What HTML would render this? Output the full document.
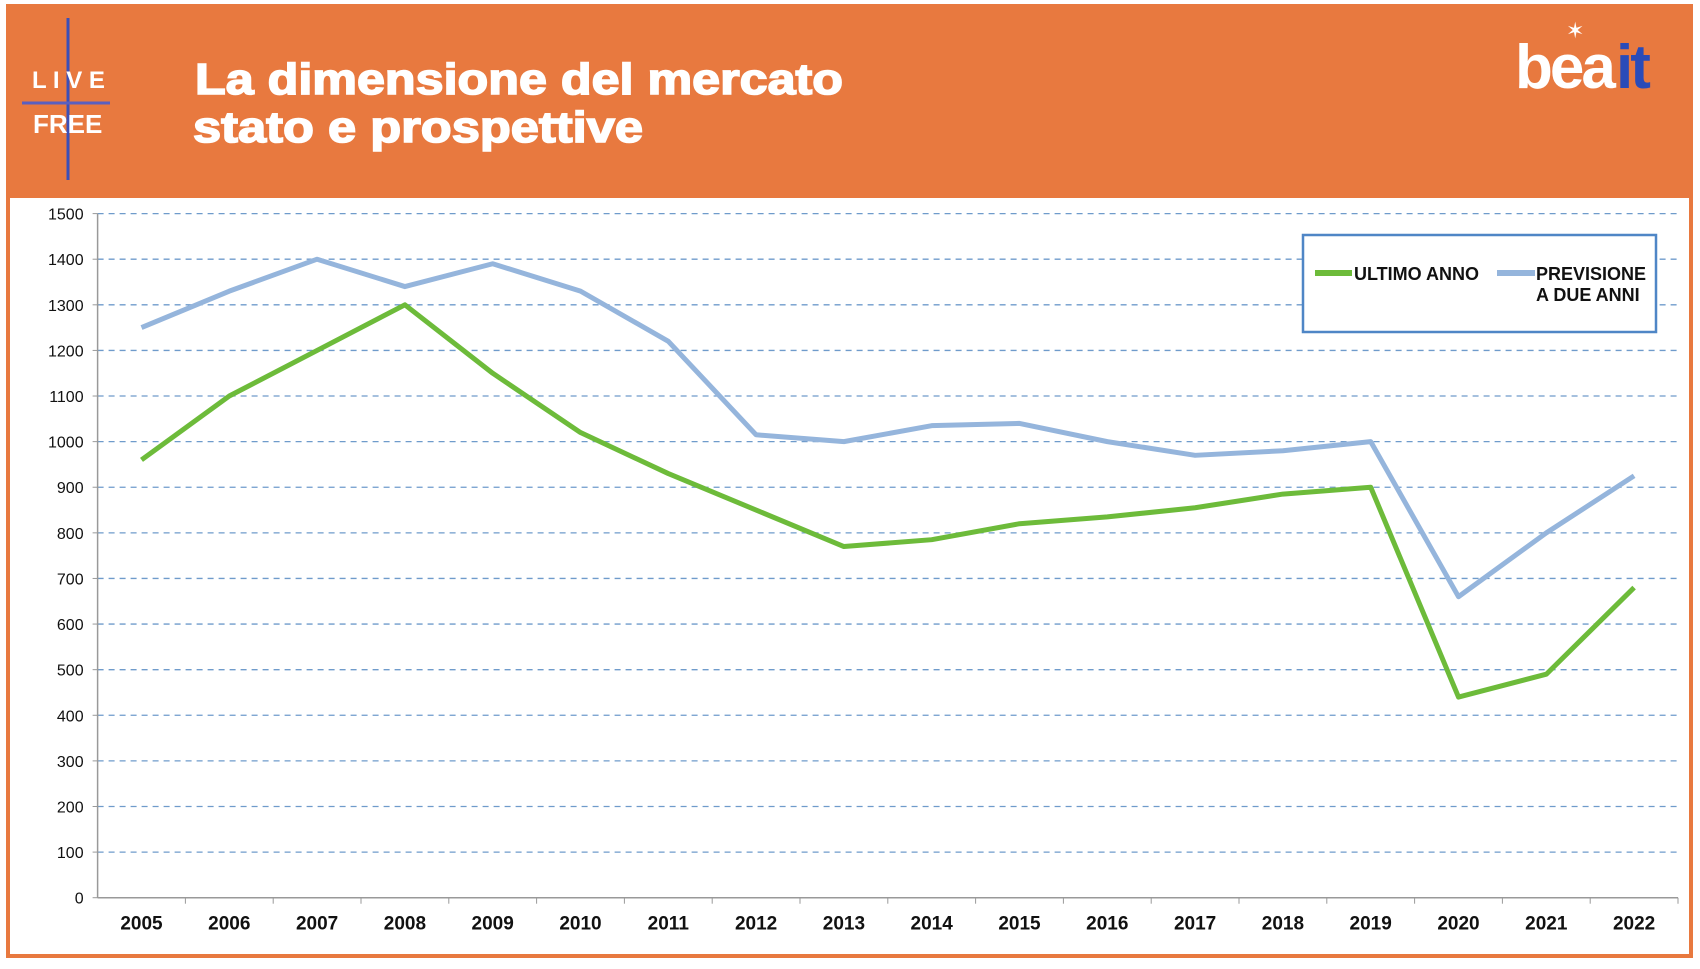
<!DOCTYPE html>
<html><head><meta charset="utf-8"><style>
body{margin:0;width:1700px;height:964px;background:#fff;overflow:hidden;font-family:"Liberation Sans",Arial,sans-serif}
</style></head><body>
<svg width="1700" height="964" xmlns="http://www.w3.org/2000/svg">
<rect x="8" y="6" width="1683" height="950" fill="#fff" stroke="#e8793f" stroke-width="4"/>
<rect x="8" y="6" width="1683" height="192" fill="#e8793f"/>
<g>
<line x1="68" y1="18" x2="68" y2="180" stroke="#3b4fb8" stroke-width="3"/>
<line x1="22" y1="103" x2="110" y2="103" stroke="#5a5fc0" stroke-width="3"/>
<text x="32" y="88" font-size="24" font-weight="bold" fill="#fff">L I V E</text>
<text x="33" y="133" font-size="26" font-weight="bold" fill="#fff">FREE</text>
</g>
<text x="195" y="94" font-size="44" font-weight="bold" fill="#fff" stroke="#fff" stroke-width="1.6" textLength="648" lengthAdjust="spacingAndGlyphs">La dimensione del mercato</text>
<text x="193" y="142" font-size="44" font-weight="bold" fill="#fff" stroke="#fff" stroke-width="1.6" textLength="450" lengthAdjust="spacingAndGlyphs">stato e prospettive</text>
<g>
<text x="1515" y="88" font-size="62" font-weight="bold" fill="#fff" letter-spacing="-3">bea</text>
<text x="1616" y="88" font-size="62" font-weight="bold" fill="#2a4bb8" letter-spacing="-3">it</text>
<text x="1566" y="38" font-size="22" fill="#fff">✶</text>
</g>
<g id="grid"></g>
<g id="axes"></g>
<g id="series"></g>
<g>
<rect x="1303" y="235" width="353" height="97" fill="#fff" stroke="#4f86c6" stroke-width="2.5"/>
<line x1="1315" y1="273" x2="1352" y2="273" stroke="#6dbb3a" stroke-width="6"/>
<text x="1354" y="280" font-size="18" font-weight="bold" fill="#111">ULTIMO ANNO</text>
<line x1="1497" y1="273" x2="1535" y2="273" stroke="#95b5dc" stroke-width="6"/>
<text x="1536" y="280" font-size="18" font-weight="bold" fill="#111">PREVISIONE</text>
<text x="1536" y="301" font-size="18" font-weight="bold" fill="#111">A DUE ANNI</text>
</g>
</svg>
<script>
const years=["2005","2006","2007","2008","2009","2010","2011","2012","2013","2014","2015","2016","2017","2018","2019","2020","2021","2022"];
const ultimoAnno=[960,1100,1200,1300,1150,1020,930,850,770,785,820,835,855,885,900,440,490,680];
const previsione=[1250,1330,1400,1340,1390,1330,1220,1015,1000,1035,1040,1000,970,980,1000,660,800,925];
const yTicks=[0,100,200,300,400,500,600,700,800,900,1000,1100,1200,1300,1400,1500];
const NS="http://www.w3.org/2000/svg";
const X0=97.6,XR=1678,Y0=897.7,Y1=213.6,STEP=(XR-X0)/years.length;
function xs(i){return X0+STEP*(i+0.5);}
function ys(v){return Y0-(v/1500)*(Y0-Y1);}
function mk(tag,attrs,parent){const e=document.createElementNS(NS,tag);for(const k in attrs)e.setAttribute(k,attrs[k]);parent.appendChild(e);return e;}
const grid=document.getElementById('grid'),axes=document.getElementById('axes'),series=document.getElementById('series');
yTicks.forEach(v=>{
 if(v>0){const l=mk('line',{x1:X0,x2:XR,y1:ys(v),y2:ys(v),stroke:'#6f9bcb','stroke-width':1.3,'stroke-dasharray':'6 5'},grid);
 
 }
 const t=mk('text',{x:X0-14,y:ys(v)+6,'font-size':16,'text-anchor':'end',fill:'#111'},axes);t.textContent=v;
 
 
 mk('line',{x1:X0-5,x2:X0,y1:ys(v),y2:ys(v),stroke:'#999'},axes);
});
const ya=mk('line',{x1:X0,x2:X0,y1:Y1,y2:Y0,stroke:'#999','stroke-width':1.5},axes);


const xa=mk('line',{x1:X0,x2:XR,y1:Y0,y2:Y0,stroke:'#999','stroke-width':1.5},axes);


years.forEach((y,i)=>{
 mk('line',{x1:X0+STEP*(i+1),x2:X0+STEP*(i+1),y1:Y0,y2:Y0+6,stroke:'#999'},axes);
 const t=mk('text',{x:xs(i),y:Y0+32,'font-size':19,'font-weight':'bold','text-anchor':'middle',fill:'#111'},axes);t.textContent=y;
 
 
});
function line(arr,color,name){
 const p=mk('polyline',{points:arr.map((v,i)=>xs(i)+','+ys(v)).join(' '),fill:'none',stroke:color,'stroke-width':5,'stroke-linejoin':'round'},series);
 
 
}
line(previsione,'#95b5dc','line-previsione-a-due-anni');
line(ultimoAnno,'#6dbb3a','line-ultimo-anno');
</script>
</body></html>
